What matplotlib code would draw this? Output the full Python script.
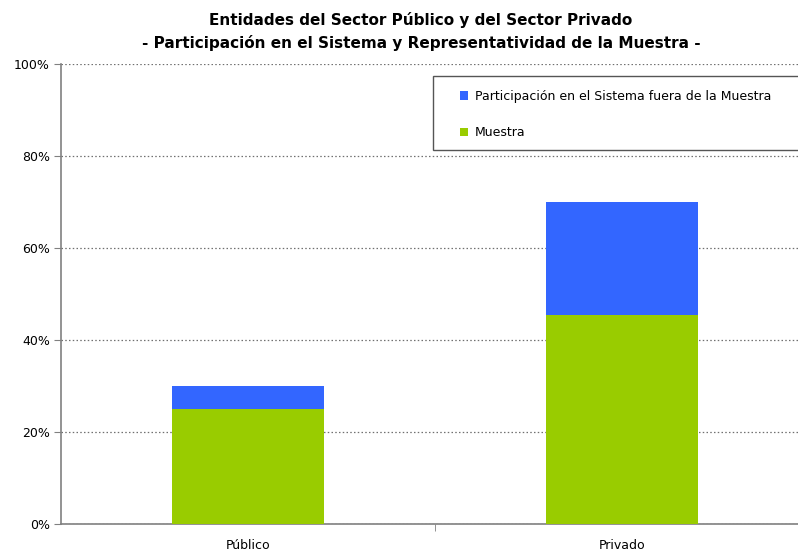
import matplotlib
matplotlib.use("Agg")
from matplotlib import pyplot as plt
from matplotlib.patches import Patch, Rectangle
from matplotlib.ticker import FuncFormatter

# datos
sectores = ["Público", "Privado"]
muestra = [25.0, 45.4]
fuera_muestra = [5.0, 24.6]
series = ["Participación en el Sistema fuera de la Muestra", "Muestra"]

azul = "#3366FF"
verde = "#99CC00"
gris = "#808080"

plt.rcParams["font.family"] = ["DejaVu Sans"]

W, H = 798, 555
fig = plt.figure(figsize=(W / 100, H / 100), dpi=100)
ax = fig.add_axes([61 / W, 1 - 524 / H, (W - 61) / W, (524 - 64) / H])

xs = list(range(len(sectores)))
ax.bar(xs, muestra, width=0.404, color=verde, zorder=3)
ax.bar(xs, fuera_muestra, width=0.404, bottom=muestra, color=azul, zorder=3)

ax.set_xlim(-0.5, -0.5 + (W - 61) / 374)
ax.set_ylim(0, 100)
ax.set_yticks([0, 20, 40, 60, 80, 100])
ax.yaxis.set_major_formatter(FuncFormatter(lambda v, p: "%d%%" % v))
ax.set_xticks(xs)
ax.set_xticklabels(sectores)
ax.set_xticks([0.5], minor=True)
ax.tick_params(axis="x", which="major", length=0, pad=11, labelsize=9)
ax.tick_params(axis="x", which="minor", length=5, color=gris)
ax.tick_params(axis="y", length=5, color=gris, labelsize=9, pad=3)

ax.grid(axis="y", linestyle=(0, (1.2, 1.8)), color="#707070", linewidth=0.9, zorder=0)
for s in ["top", "right"]:
    ax.spines[s].set_visible(False)
ax.spines["left"].set_color(gris)
ax.spines["bottom"].set_color(gris)
ax.spines["left"].set_linewidth(1.2)
ax.spines["bottom"].set_linewidth(1.2)

fig.text(421 / W, 1 - 20 / H, "Entidades del Sector Público y del Sector Privado",
         ha="center", va="center", fontsize=11, fontweight="bold")
fig.text(421 / W, 1 - 43 / H, "- Participación en el Sistema y Representatividad de la Muestra -",
         ha="center", va="center", fontsize=11, fontweight="bold")

# marco de la leyenda
ax.add_patch(Rectangle((433 / W, 1 - 150 / H), (830 - 433) / W, 74 / H,
                       transform=fig.transFigure, facecolor="white",
                       edgecolor="#555555", linewidth=1.0, zorder=4,
                       clip_on=False))

handles = [Patch(facecolor=azul), Patch(facecolor=verde)]
leg = ax.legend(handles, series, loc="center left",
                bbox_to_anchor=(460 / W, 1 - 114.5 / H),
                bbox_transform=fig.transFigure,
                fontsize=9, handlelength=0.65, handleheight=0.65,
                handletextpad=0.55, labelspacing=1.85, borderpad=0,
                borderaxespad=0, frameon=False)
leg.set_zorder(5)

fig.savefig("out.png", dpi=100)
